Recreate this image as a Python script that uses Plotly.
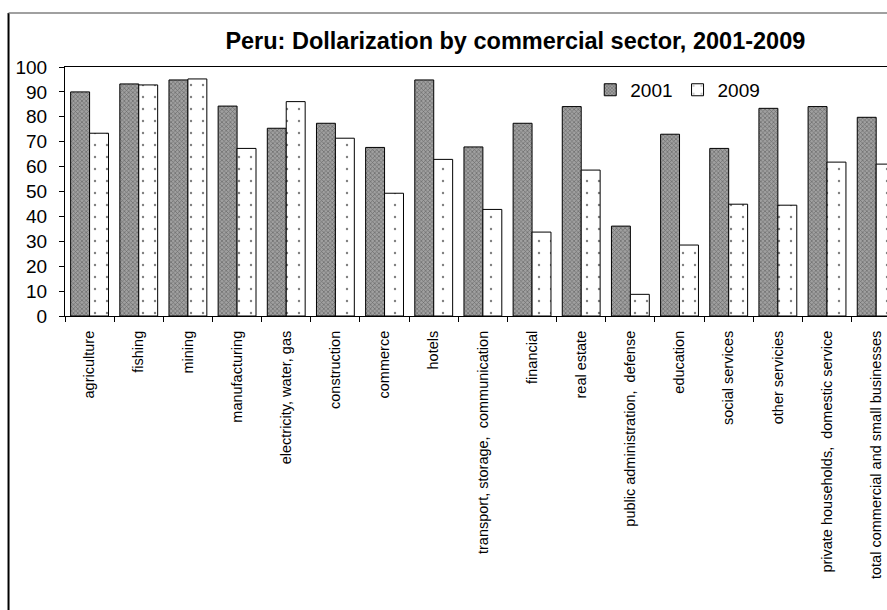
import plotly.graph_objects as go

sectors = [
    "agriculture", "fishing", "mining", "manufacturing", "electricity, water, gas",
    "construction", "commerce", "hotels", "transport, storage,  communication",
    "financial", "real estate", "public administration,  defense", "education",
    "social services", "other servicies", "private households,  domestic service",
    "total commercial and small businesses",
]
dollar_2001 = [90, 93.2, 94.8, 84.3, 75.4, 77.4, 67.7, 94.8, 67.9, 77.4, 84.1, 36.1, 73.0, 67.3, 83.4, 84.1, 79.8]
dollar_2009 = [73.4, 92.8, 95.2, 67.3, 86.1, 71.4, 49.3, 62.9, 42.8, 33.7, 58.6, 8.7, 28.5, 44.9, 44.5, 61.8, 61.0]

FONT = "Liberation Sans, Arial, sans-serif"

fig = go.Figure()
fig.add_trace(go.Bar(
    x=sectors,
    y=dollar_2001,
    name="2001",
    marker=dict(
        color="#9a9a9a",
        line=dict(color="black", width=1),
        pattern=dict(shape="x", size=3, solidity=0.4, fgcolor="#333333", bgcolor="#a0a0a0"),
    ),
    hovertemplate="<b>%{x}</b><br>2001: %{y:.1f}%<extra></extra>",
))
fig.add_trace(go.Bar(
    x=sectors,
    y=dollar_2009,
    name="2009",
    marker=dict(
        color="white",
        line=dict(color="black", width=1),
        pattern=dict(shape=".", size=12, solidity=0.03, fgcolor="black", bgcolor="white"),
    ),
    hovertemplate="<b>%{x}</b><br>2009: %{y:.1f}%<extra></extra>",
))

# outer chart frame (cropped on the right and bottom)
fig.add_shape(type="line", xref="paper", yref="paper", x0=-0.0687, x1=-0.0687, y0=1.217, y1=-1.3,
              line=dict(color="black", width=2))
fig.add_shape(type="line", xref="paper", yref="paper", x0=-0.0687, x1=1.1, y0=1.217, y1=1.217,
              line=dict(color="#808080", width=1.5))

fig.update_layout(
    width=887,
    height=610,
    autosize=False,
    margin=dict(l=65, r=0, t=67, b=294),
    paper_bgcolor="white",
    plot_bgcolor="white",
    font=dict(family=FONT, color="black"),
    title=dict(
        text="<b>Peru: Dollarization by commercial sector, 2001-2009</b>",
        font=dict(size=23.5, family=FONT, color="black"),
        x=0.581, xanchor="center", y=1 - 41 / 610, yanchor="middle",
    ),
    barmode="group",
    bargap=0.23,
    bargroupgap=0,
    legend=dict(
        orientation="h", x=0.639, xanchor="left", y=0.908, yanchor="middle",
        font=dict(size=19, family=FONT), itemwidth=30, bgcolor="rgba(0,0,0,0)",
    ),
    xaxis=dict(
        type="category",
        range=[-0.5, 16.22],
        showline=True, linecolor="black", linewidth=1, mirror=True,
        ticks="outside", tickson="boundaries", ticklen=5, tickcolor="black",
        tickangle=-90, tickfont=dict(size=14.5, family=FONT),
        ticklabelstandoff=8,
        showgrid=False,
    ),
    yaxis=dict(
        range=[0, 100], dtick=10,
        showline=True, linecolor="black", linewidth=1,
        ticks="outside", ticklen=5, tickcolor="black",
        tickfont=dict(size=19, family=FONT),
        ticklabelstandoff=8,
        showgrid=False, zeroline=False,
    ),
)

# drop the default page margin so the figure fills the window exactly
fig.write_html(
    "out.html",
    config={"displayModeBar": False},
    post_script="document.body.style.margin='0';document.documentElement.style.overflow='hidden';",
)
